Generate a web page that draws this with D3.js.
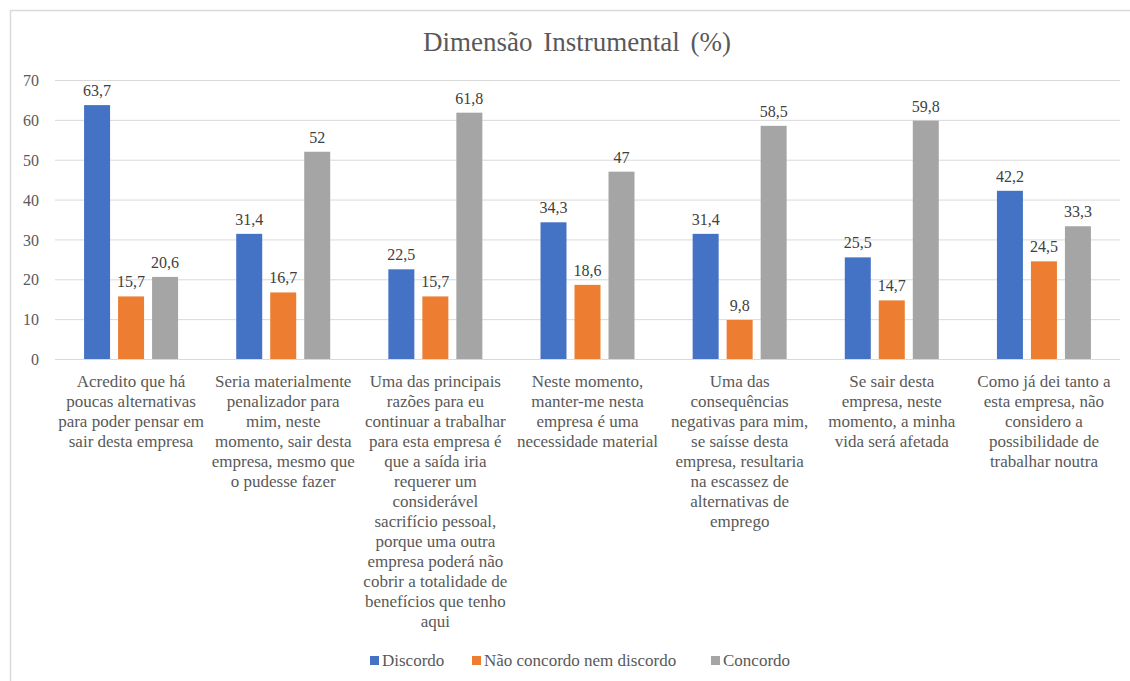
<!DOCTYPE html>
<html><head><meta charset="UTF-8"><script src="https://d3js.org/d3.v7.min.js"></script></head>
<body style="margin:0">
<script>

// --------------------------------------
// Data
// --------------------------------------

const categories = [
  ["Acredito que há", "poucas alternativas", "para poder pensar em", "sair desta empresa"],
  ["Seria materialmente", "penalizador para", "mim, neste", "momento, sair desta", "empresa, mesmo que", "o pudesse fazer"],
  ["Uma das principais", "razões para eu", "continuar a trabalhar", "para esta empresa é", "que a saída iria",
   "requerer um", "considerável", "sacrifício pessoal,", "porque uma outra", "empresa poderá não",
   "cobrir a totalidade de", "benefícios que tenho", "aqui"],
  ["Neste momento,", "manter-me nesta", "empresa é uma", "necessidade material"],
  ["Uma das", "consequências", "negativas para mim,", "se saísse desta", "empresa, resultaria",
   "na escassez de", "alternativas de", "emprego"],
  ["Se sair desta", "empresa, neste", "momento, a minha", "vida será afetada"],
  ["Como já dei tanto a", "esta empresa, não", "considero a", "possibilidade de", "trabalhar noutra"]
];

const seriesNames = ["Discordo", "Não concordo nem discordo", "Concordo"];
const discordo  = [63.7, 31.4, 22.5, 34.3, 31.4, 25.5, 42.2];
const neutro    = [15.7, 16.7, 15.7, 18.6, 9.8, 14.7, 24.5];
const concordo  = [20.6, 52, 61.8, 47, 58.5, 59.8, 33.3];
const yTicks = [0, 10, 20, 30, 40, 50, 60, 70];

const colors = ["#4472C4", "#ED7D31", "#A5A5A5"];
const seriesValues = [discordo, neutro, concordo];

const FONT = "'Liberation Serif', 'Times New Roman', Times";

// --------------------------------------
// Size and margin
// --------------------------------------

const totalWidth = 1130;
const totalHeight = 681;
const margin = {top: 80, right: 10, bottom: 322, left: 55};

const svg = d3.select("body")
  .append("svg")
  .attr("width", totalWidth)
  .attr("height", totalHeight)
  .attr("font-family", FONT);

// outer frame, cut on right and bottom like the picture
svg.append("rect")
  .attr("x", 10.5)
  .attr("y", 10.5)
  .attr("width", totalWidth + 10)
  .attr("height", totalHeight + 10)
  .attr("fill", "none")
  .attr("stroke", "#d9d9d9")
  .attr("stroke-width", 1.5);

// --------------------------------------
// Scales
// --------------------------------------

const x0 = d3.scaleBand()
  .domain(d3.range(categories.length))
  .range([margin.left, totalWidth - margin.right])
  .paddingInner(0)
  .paddingOuter(0);

const x1 = d3.scaleBand()
  .domain(d3.range(seriesNames.length))
  .range([-47, 47])
  .paddingInner(8 / 34);

const y = d3.scaleLinear()
  .domain([0, 70])
  .range([totalHeight - margin.bottom, margin.top]);

// --------------------------------------
// Title
// --------------------------------------

svg.append("text")
  .attr("x", 577)
  .attr("y", 51)
  .attr("text-anchor", "middle")
  .attr("font-family", FONT)
  .style("font-family", FONT)
  .style("font-size", "27px")
  .style("word-spacing", "4px")
  .style("fill", "#595959")
  .text("Dimensão Instrumental (%)");

// --------------------------------------
// Axes
// --------------------------------------

const yAxis = svg.append("g")
  .attr("transform", `translate(${margin.left},0)`)
  .call(d3.axisLeft(y)
    .tickValues(yTicks)
    .tickSize(-(totalWidth - margin.right - margin.left))
    .tickPadding(16));

yAxis.attr("font-family", FONT).attr("font-size", null);
yAxis.select(".domain").remove();
yAxis.selectAll("line").attr("stroke", "#d9d9d9");
yAxis.selectAll("text")
  .attr("dy", "0.35em")
  .style("font-family", FONT)
  .style("font-size", "16px")
  .style("fill", "#595959");

// --------------------------------------
// Bars
// --------------------------------------

const groups = svg.append("g")
  .selectAll("g")
  .data(categories)
  .join("g")
  .attr("transform", (d, i) => `translate(${x0(i) + x0.bandwidth() / 2},0)`);

groups.selectAll("rect")
  .data((d, i) => seriesValues.map((s, k) => ({k: k, v: s[i]})))
  .join("rect")
  .attr("x", d => x1(d.k))
  .attr("width", x1.bandwidth())
  .attr("y", d => y(d.v))
  .attr("height", d => y(0) - y(d.v))
  .attr("fill", d => colors[d.k]);

groups.selectAll("text.value-label")
  .data((d, i) => seriesValues.map((s, k) => ({k: k, v: s[i]})))
  .join("text")
  .attr("class", "value-label")
  .attr("x", d => x1(d.k) + x1.bandwidth() / 2)
  .attr("y", d => y(d.v) - 9)
  .attr("text-anchor", "middle")
  .style("font-family", FONT)
  .style("font-size", "16px")
  .style("fill", "#404040")
  .text(d => String(d.v).replace(".", ","));

// category labels
groups.append("text")
  .attr("text-anchor", "middle")
  .style("font-family", FONT)
  .style("font-size", "17px")
  .style("fill", "#595959")
  .selectAll("tspan")
  .data(d => d)
  .join("tspan")
  .attr("x", 0)
  .attr("y", (d, i) => y(0) + 28 + i * 20)
  .text(d => d);

// --------------------------------------
// Legend
// --------------------------------------

const legendX = [370, 472, 711];
const legend = svg.append("g");

legend.selectAll("rect")
  .data(seriesNames)
  .join("rect")
  .attr("x", (d, i) => legendX[i])
  .attr("y", 656)
  .attr("width", 9)
  .attr("height", 9)
  .attr("fill", (d, i) => colors[i]);

legend.selectAll("text")
  .data(seriesNames)
  .join("text")
  .attr("x", (d, i) => legendX[i] + 12)
  .attr("y", 666)
  .style("font-family", FONT)
  .style("font-size", "17px")
  .style("fill", "#595959")
  .text(d => d);

</script>
</body></html>
